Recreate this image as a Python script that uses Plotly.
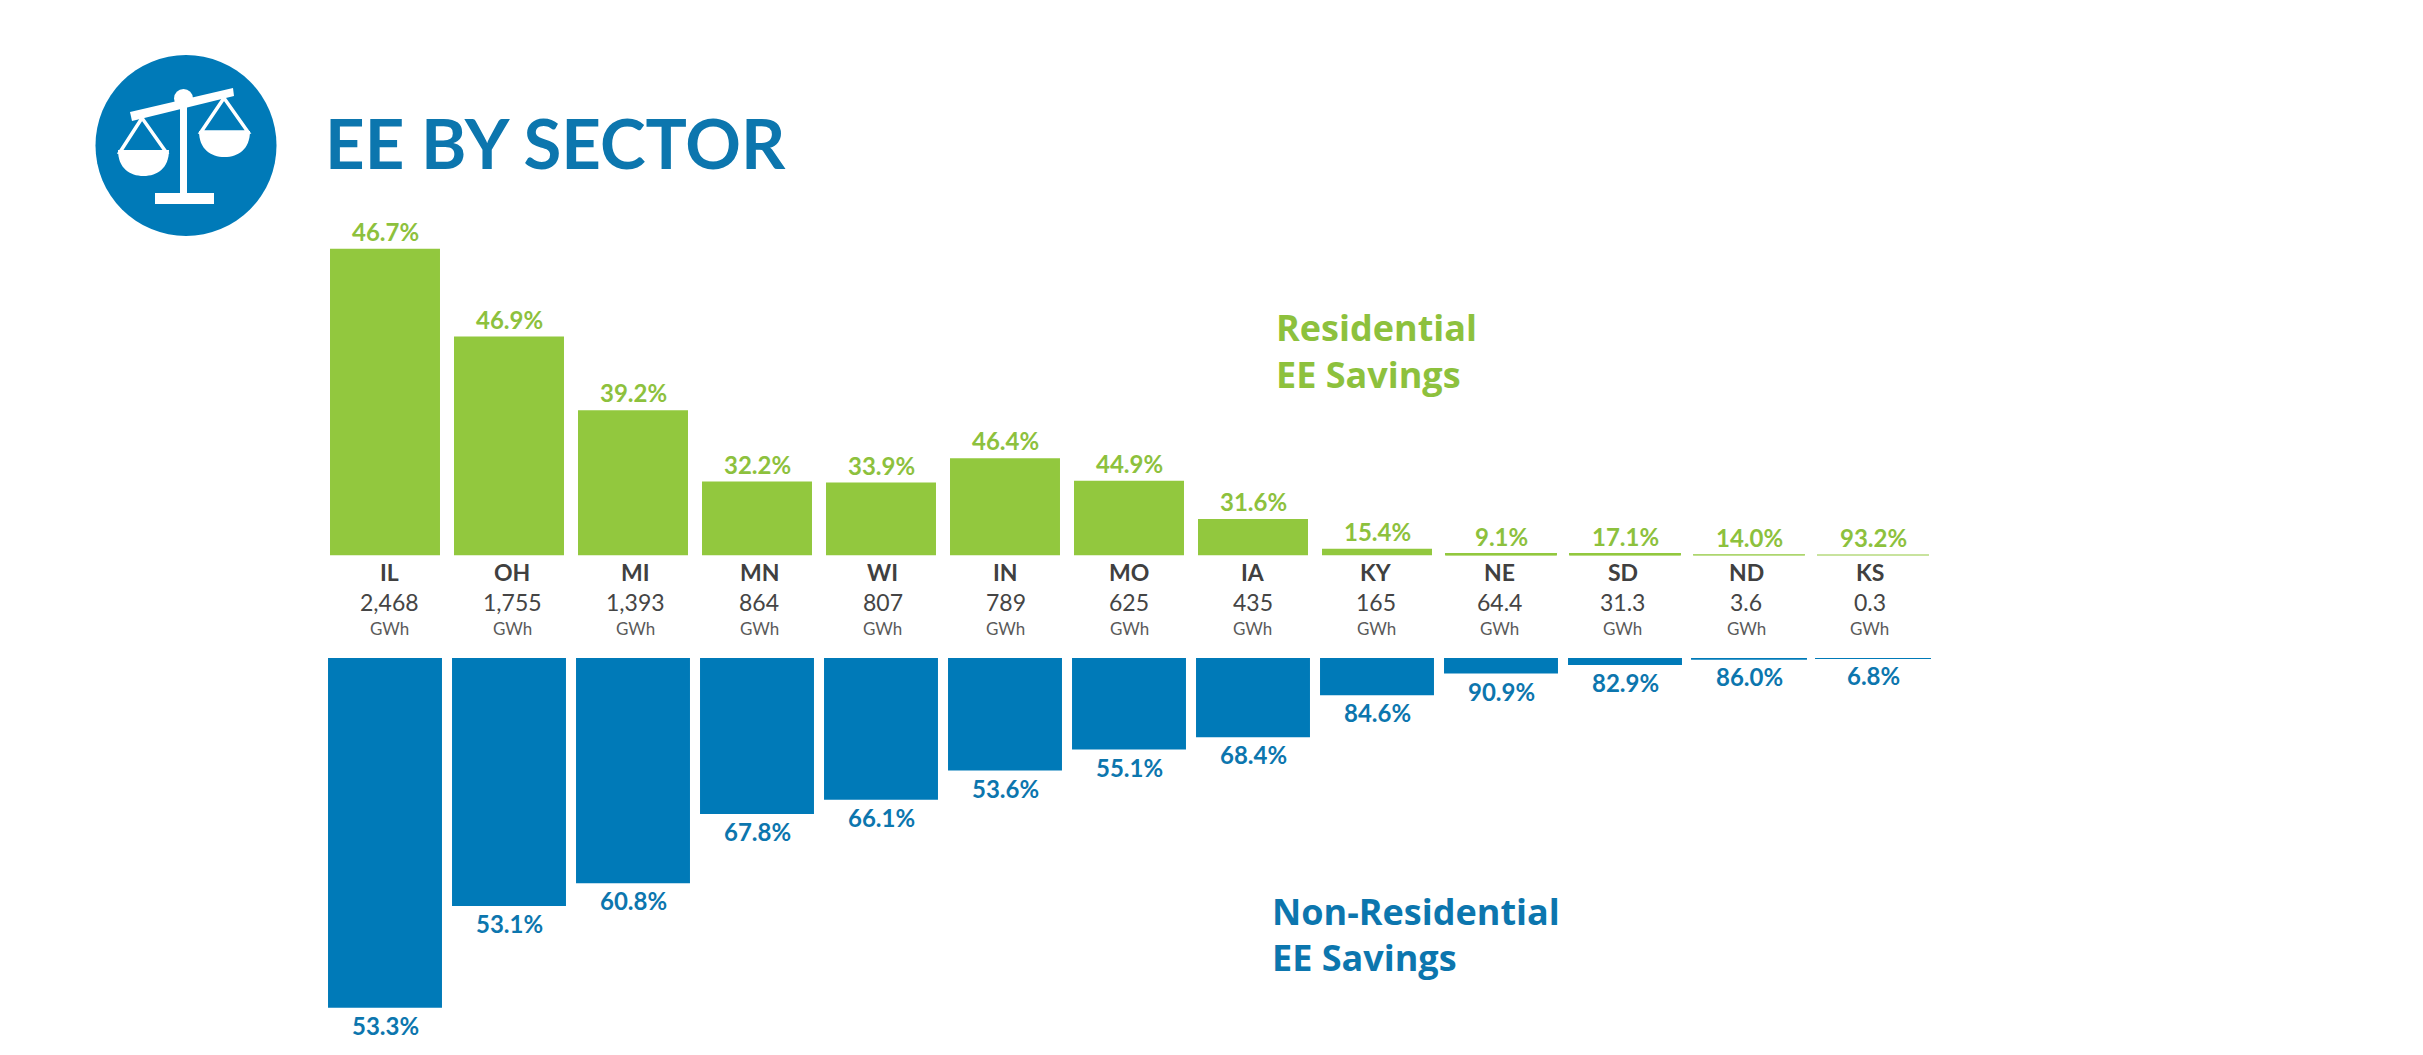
import plotly.graph_objects as go

W = 2423
H = 1055

states = ["IL", "OH", "MI", "MN", "WI", "IN", "MO", "IA", "KY", "NE", "SD", "ND", "KS"]
total_labels = ["2,468", "1,755", "1,393", "864", "807", "789", "625", "435", "165", "64.4", "31.3", "3.6", "0.3"]
residential_gwh = [1153, 823, 546, 278, 274, 366, 281, 137, 25, 5.9, 5.4, 0.5, 0.3]
nonresidential_gwh = [1315, 932, 847, 586, 533, 423, 344, 298, 140, 58.5, 25.9, 3.1, 0.02]
residential_pct = ["46.7%", "46.9%", "39.2%", "32.2%", "33.9%", "46.4%", "44.9%", "31.6%", "15.4%", "9.1%", "17.1%", "14.0%", "93.2%"]
nonresidential_pct = ["53.3%", "53.1%", "60.8%", "67.8%", "66.1%", "53.6%", "55.1%", "68.4%", "84.6%", "90.9%", "82.9%", "86.0%", "6.8%"]

GREEN = "#92C83E"
BLUE = "#007AB8"
GREEN_TXT = "#8DC13D"
BLUE_TXT = "#0C76AE"
DARK = "#404040"
FONT = "Lato"


def px(x):
    return x / W


def py(y):
    return 1 - y / H


# thin bars still show as hairlines in the original
green_lines = [2 if v < 6 else 0 for v in residential_gwh]
blue_lines = [2 if v < 4 else 0 for v in nonresidential_gwh]

fig = go.Figure()
fig.add_trace(go.Bar(x=states, y=residential_gwh, width=0.887, xaxis="x", yaxis="y",
                     marker=dict(color=GREEN, line=dict(color=GREEN, width=green_lines))))
fig.add_trace(go.Bar(x=states, y=nonresidential_gwh, width=0.919, xaxis="x", yaxis="y2",
                     marker=dict(color=BLUE, line=dict(color=BLUE, width=blue_lines))))

annotations = []


def label(x, y, text, size, color, xref="paper", yref="paper", family=FONT, **kw):
    annotations.append(dict(x=x, y=y, xref=xref, yref=yref, text=text, showarrow=False,
                            font=dict(family=family, size=size, color=color), **kw))


for i, (s, tot, r, n, rp, np_) in enumerate(zip(states, total_labels, residential_gwh, nonresidential_gwh,
                                                residential_pct, nonresidential_pct)):
    # the state rows sit on a slightly tighter pitch than the bars
    nudge = 4 - 0.625 * i
    label(s, r, "<b>%s</b>" % rp, 24, GREEN_TXT, xref="x", yref="y", yanchor="bottom", yshift=1)
    label(s, n, "<b>%s</b>" % np_, 24, BLUE_TXT, xref="x", yref="y2", yanchor="top", yshift=-1)
    label(s, py(572), "<b>%s</b>" % s, 23, DARK, xref="x", yanchor="middle", xshift=nudge)
    label(s, py(602), tot, 23, "#454545", xref="x", yanchor="middle", xshift=nudge)
    label(s, py(628), "GWh", 17, "#5A5A5A", xref="x", yanchor="middle", xshift=nudge)

label(px(323), py(142), "<b>EE BY SECTOR</b>", 69, BLUE_TXT, xanchor="left", yanchor="middle")
label(px(1274), py(327), "<b>Residential</b>", 36, GREEN_TXT, xanchor="left", yanchor="middle", family="Open Sans")
label(px(1274), py(374), "<b>EE Savings</b>", 36, GREEN_TXT, xanchor="left", yanchor="middle", family="Open Sans")
label(px(1270), py(911), "<b>Non-Residential</b>", 36, BLUE_TXT, xanchor="left", yanchor="middle", family="Open Sans")
label(px(1270), py(957), "<b>EE Savings</b>", 36, BLUE_TXT, xanchor="left", yanchor="middle", family="Open Sans")


def poly(points):
    return "M " + " L ".join("%.5f %.5f" % (px(a), py(b)) for a, b in points) + " Z"


def bowl(x0, x1, y, bottom):
    mid = (x0 + x1) / 2
    return "M %.5f %.5f C %.5f %.5f %.5f %.5f %.5f %.5f C %.5f %.5f %.5f %.5f %.5f %.5f Z" % (
        px(x0), py(y),
        px(x0), py(bottom - 8), px(mid - 14), py(bottom), px(mid), py(bottom),
        px(mid + 14), py(bottom), px(x1), py(bottom - 8), px(x1), py(y))


def shape_path(path, fill="white", line=None):
    return dict(type="path", xref="paper", yref="paper", path=path, fillcolor=fill,
                line=dict(color=line or fill, width=0))


def tri(apex, left, right):
    # pan strings, drawn as a hollow triangle
    return dict(type="path", xref="paper", yref="paper", path=poly([apex, left, right]),
                fillcolor="rgba(0,0,0,0)", line=dict(color="white", width=3.5))


shapes = [
    dict(type="circle", xref="paper", yref="paper", x0=px(95.5), x1=px(276.5), y0=py(55), y1=py(236),
         fillcolor=BLUE, line=dict(width=0)),
    shape_path(poly([(130, 112), (233, 88), (234, 96), (132, 121)])),
    dict(type="circle", xref="paper", yref="paper", x0=px(174), x1=px(193), y0=py(89), y1=py(108),
         fillcolor="white", line=dict(width=0)),
    shape_path(poly([(180, 100), (187, 100), (187, 195), (180, 195)])),
    shape_path(poly([(155, 193), (214, 193), (214, 204), (155, 204)])),
    tri((142, 118), (120, 152), (166, 152)),
    shape_path(bowl(118, 169, 150, 176)),
    tri((224, 98), (201, 132), (248, 132)),
    shape_path(bowl(199, 250, 131, 157)),
]

scale = 0.266
y_top = 1400
span = y_top * scale
pitch = 124
base_green = 555.5
base_blue = 658

fig.update_layout(
    width=W, height=H, margin=dict(l=0, r=0, t=0, b=0), autosize=False,
    paper_bgcolor="white", plot_bgcolor="rgba(0,0,0,0)", showlegend=False,
    barmode="overlay", annotations=annotations, shapes=shapes,
    xaxis=dict(visible=False, type="category", categoryorder="array", categoryarray=states,
               range=[-385 / pitch, (W - 385) / pitch], fixedrange=True),
    yaxis=dict(visible=False, range=[0, y_top], domain=[py(base_green), py(base_green - span)]),
    yaxis2=dict(visible=False, range=[y_top, 0], domain=[py(base_blue + span), py(base_blue)], anchor="x"),
)

fig.write_html("out.html", config={"displayModeBar": False},
               post_script="document.body.style.margin='0';")
